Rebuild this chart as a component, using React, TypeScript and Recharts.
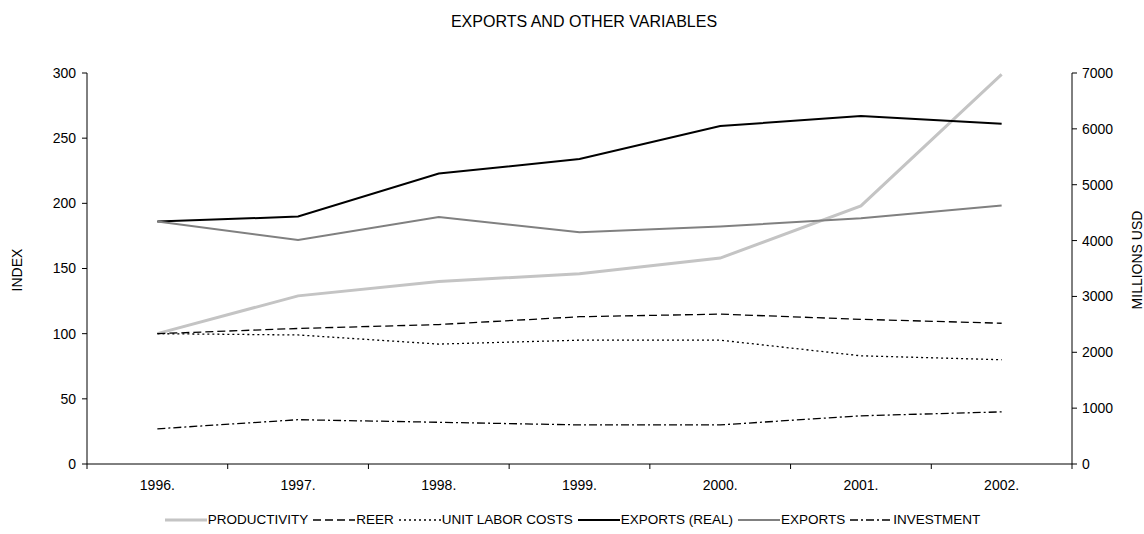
import React from 'react';
import { LineChart, Line, XAxis, YAxis, Legend, ReferenceLine } from 'recharts';

const years = ['1996.', '1997.', '1998.', '1999.', '2000.', '2001.', '2002.'];
const productivity = [100, 129, 140, 146, 158, 198, 299];
const reer = [100, 104, 107, 113, 115, 111, 108];
const unitLaborCosts = [100, 99, 92, 95, 95, 83, 80];
const investment = [27, 34, 32, 30, 30, 37, 40];
const exportsReal = [4340, 4430, 5200, 5460, 6050, 6230, 6090];
const exportsUsd = [4340, 4010, 4420, 4150, 4250, 4400, 4630];

const indexTicks = [0, 50, 100, 150, 200, 250, 300];
const millionTicks = [0, 1000, 2000, 3000, 4000, 5000, 6000, 7000];

const FONT = '"Liberation Sans", Arial, sans-serif';
const CHART_W = 1144;
const LEFT_W = 87;
const RIGHT_W = 72;
const HALF_BAND = (CHART_W - LEFT_W - RIGHT_W) / years.length / 2;
const TICK_SIZE = 6;
const TICK_MARGIN = 10;

const data = years.map((year, i) => ({
  year,
  productivity: productivity[i],
  reer: reer[i],
  ulc: unitLaborCosts[i],
  exportsReal: exportsReal[i],
  exports: exportsUsd[i],
  investment: investment[i],
}));

const series = [
  { key: 'productivity', name: 'PRODUCTIVITY', color: '#c4c4c4', width: 3, dash: undefined, axis: 'idx' },
  { key: 'reer', name: 'REER', color: '#000000', width: 1.3, dash: '8 4', axis: 'idx' },
  { key: 'ulc', name: 'UNIT LABOR COSTS', color: '#000000', width: 1.3, dash: '2 3', axis: 'idx' },
  { key: 'exportsReal', name: 'EXPORTS (REAL)', color: '#000000', width: 2, dash: undefined, axis: 'usd' },
  { key: 'exports', name: 'EXPORTS', color: '#808080', width: 2, dash: undefined, axis: 'usd' },
  { key: 'investment', name: 'INVESTMENT', color: '#000000', width: 1.3, dash: '8 3 2 3', axis: 'idx' },
];

// category label in the middle, tick marks on the band edges (excel style)
function YearTick(props: any) {
  const { x, y, payload, index } = props;
  const axisY = y - TICK_SIZE - TICK_MARGIN;
  return (
    <g>
      <line x1={x - HALF_BAND} x2={x - HALF_BAND} y1={axisY} y2={axisY + 5} stroke="#000" />
      {index === years.length - 1 && (
        <line x1={x + HALF_BAND} x2={x + HALF_BAND} y1={axisY} y2={axisY + 5} stroke="#000" />
      )}
      <text x={x} y={y} dy={10} textAnchor="middle" fill="#000" fontSize={14} fontFamily={FONT}>
        {payload.value}
      </text>
    </g>
  );
}

// legend drawn by hand so the line samples keep their dash patterns
function LegendContent() {
  return (
    <div style={{ display: 'flex', justifyContent: 'center', alignItems: 'center', fontFamily: FONT, fontSize: 13.5, color: '#000', lineHeight: '16px', paddingLeft: 6 }}>
      {series.map((s) => (
        <div key={s.key} style={{ display: 'flex', alignItems: 'center', marginRight: 5 }}>
          <svg width={42} height={8} style={{ marginRight: 1 }}>
            <line x1={0} x2={42} y1={4} y2={4} stroke={s.color} strokeWidth={s.width} strokeDasharray={s.dash} />
          </svg>
          <span>{s.name}</span>
        </div>
      ))}
    </div>
  );
}

export default function App() {
  return (
    <div style={{ position: 'absolute', left: 0, top: 0, width: CHART_W, height: 534, background: '#fff', fontFamily: FONT }}>
      <div style={{ position: 'absolute', top: 13, left: 12, width: CHART_W, textAlign: 'center', fontSize: 16 }}>
        EXPORTS AND OTHER VARIABLES
      </div>
      <div style={{ position: 'absolute', left: 17, top: 270, transform: 'translate(-50%, -50%) rotate(-90deg)', fontSize: 14 }}>
        INDEX
      </div>
      <div style={{ position: 'absolute', left: 1137, top: 260, transform: 'translate(-50%, -50%) rotate(-90deg)', fontSize: 14, whiteSpace: 'nowrap' }}>
        MILLIONS USD
      </div>
      <LineChart
        width={CHART_W}
        height={534}
        data={data}
        margin={{ top: 73, right: 0, left: 0, bottom: 24 }}
      >
        <XAxis
          xAxisId="cat"
          dataKey="year"
          tickLine={false}
          axisLine={false}
          height={30}
          tickSize={TICK_SIZE}
          tickMargin={TICK_MARGIN}
          padding={{ left: HALF_BAND, right: HALF_BAND }}
          interval={0}
          tick={<YearTick />}
        />
        <YAxis
          yAxisId="idx"
          domain={[0, 300]}
          ticks={indexTicks}
          width={LEFT_W}
          tickSize={5}
          tickMargin={6}
          axisLine={{ stroke: '#000' }}
          tickLine={{ stroke: '#000' }}
          tick={{ fill: '#000', fontSize: 14, fontFamily: FONT }}
        />
        <YAxis
          yAxisId="usd"
          orientation="right"
          domain={[0, 7000]}
          ticks={millionTicks}
          width={RIGHT_W}
          tickSize={5}
          tickMargin={5}
          axisLine={{ stroke: '#000' }}
          tickLine={{ stroke: '#000' }}
          tick={{ fill: '#000', fontSize: 14, fontFamily: FONT }}
        />
        <ReferenceLine xAxisId="cat" yAxisId="idx" y={0} stroke="#000" strokeWidth={1} />
        <Legend
          verticalAlign="bottom"
          height={16}
          content={<LegendContent />}
          wrapperStyle={{ bottom: 6 }}
        />
        {series.map((s) => (
          <Line
            key={s.key}
            xAxisId="cat"
            yAxisId={s.axis}
            type="linear"
            dataKey={s.key}
            name={s.name}
            stroke={s.color}
            strokeWidth={s.width}
            strokeDasharray={s.dash}
            dot={false}
            activeDot={false}
            isAnimationActive={false}
          />
        ))}
      </LineChart>
    </div>
  );
}
